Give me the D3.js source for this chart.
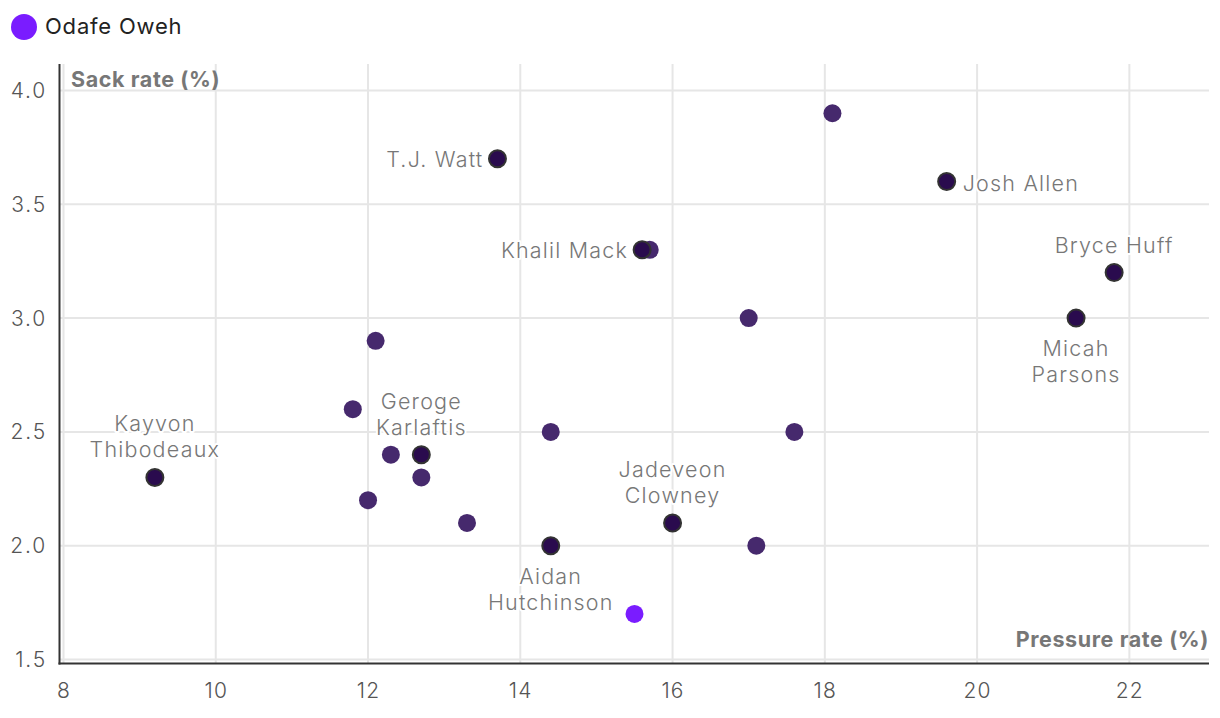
<!DOCTYPE html>
<html><head><meta charset="utf-8">
<script src="https://cdn.jsdelivr.net/npm/d3@7"></script>
<style>
body{margin:0;background:#fff;font-family:Inter,"Noto Sans",sans-serif;}
svg{display:block;}
</style></head>
<body>
<svg id="chart" width="1220" height="718"></svg>
<script>
// Data
const others = [
  {x:18.1,y:3.9},{x:15.7,y:3.3},{x:17.0,y:3.0},{x:12.1,y:2.9},{x:11.8,y:2.6},
  {x:14.4,y:2.5},{x:17.6,y:2.5},{x:12.3,y:2.4},{x:12.7,y:2.3},{x:12.0,y:2.2},
  {x:13.3,y:2.1},{x:17.1,y:2.0}
];
const named = [
  {name:"T.J. Watt", x:13.7, y:3.7, pos:"left"},
  {name:"Josh Allen", x:19.6, y:3.6, pos:"right"},
  {name:"Khalil Mack", x:15.6, y:3.3, pos:"left"},
  {name:"Bryce Huff", x:21.8, y:3.2, pos:"top"},
  {name:"Micah\nParsons", x:21.3, y:3.0, pos:"bottom"},
  {name:"Kayvon\nThibodeaux", x:9.2, y:2.3, pos:"top"},
  {name:"Geroge\nKarlaftis", x:12.7, y:2.4, pos:"top"},
  {name:"Jadeveon\nClowney", x:16.0, y:2.1, pos:"top"},
  {name:"Aidan\nHutchinson", x:14.4, y:2.0, pos:"bottom"}
];
const highlight = [{name:"Odafe Oweh", x:15.5, y:1.7}];
const xTicks = [8,10,12,14,16,18,20,22];
const yTicks = [1.5,2.0,2.5,3.0,3.5,4.0];
const xTitle = "Pressure rate (%)";
const yTitle = "Sack rate (%)";

const svg = d3.select("#chart");
const x = d3.scaleLinear().domain([8,23]).range([63.5,1205.5]);
const y = d3.scaleLinear().domain([1.5,4.0]).range([659.5,90.5]);
const plotTop = 64, plotRight = 1209, axisX = 59.5, axisY = 663.5;

// gridlines
const g = svg.append("g");
g.selectAll(".vg").data(xTicks).join("line")
  .attr("x1",d=>x(d)).attr("x2",d=>x(d)).attr("y1",plotTop).attr("y2",axisY)
  .attr("stroke","#e6e6e6").attr("stroke-width",2);
g.selectAll(".hg").data(yTicks).join("line")
  .attr("x1",axisX).attr("x2",plotRight).attr("y1",d=>y(d)).attr("y2",d=>y(d))
  .attr("stroke","#e6e6e6").attr("stroke-width",2);

// axes lines
svg.append("line").attr("x1",axisX).attr("x2",axisX).attr("y1",plotTop).attr("y2",axisY+1)
  .attr("stroke","#333").attr("stroke-width",2);
svg.append("line").attr("x1",axisX-1).attr("x2",plotRight).attr("y1",axisY).attr("y2",axisY)
  .attr("stroke","#333").attr("stroke-width",2);

// tick labels
svg.selectAll(".xt").data(xTicks).join("text")
  .attr("x",d=>x(d)+0.5).attr("y",698).attr("text-anchor","middle")
  .attr("font-size",21).attr("font-weight",300).attr("letter-spacing",1.2)
  .attr("fill","#555").text(d=>d3.format("d")(d));
svg.selectAll(".yt").data(yTicks).join("text")
  .attr("x",47).attr("y",d=>y(d)+7.5).attr("text-anchor","end")
  .attr("font-size",21).attr("font-weight",300).attr("letter-spacing",1.8)
  .attr("fill","#555").text(d=>d3.format(".1f")(d));

// axis titles
svg.append("text").attr("x",71).attr("y",87).attr("font-size",21.5).attr("font-weight",700)
  .attr("fill","#777").attr("letter-spacing",0.6).text(yTitle);
svg.append("text").attr("x",1209).attr("y",647).attr("text-anchor","end").attr("font-size",21.5)
  .attr("font-weight",700).attr("fill","#777").attr("letter-spacing",0.6).text(xTitle);

// legend
svg.append("circle").attr("cx",24).attr("cy",27).attr("r",13).attr("fill","#7a1cff");
svg.append("text").attr("x",45).attr("y",34).attr("font-size",22).attr("letter-spacing",0.8)
  .attr("fill","#222").text(highlight[0].name);

// points
const R = 8.5;
svg.selectAll(".o").data(others).join("circle")
  .attr("cx",d=>x(d.x)).attr("cy",d=>y(d.y)).attr("r",R+0.5).attr("fill","#46296d");
svg.selectAll(".n").data(named).join("circle")
  .attr("cx",d=>x(d.x)).attr("cy",d=>y(d.y)).attr("r",R).attr("fill","#2a0b4e")
  .attr("stroke","#333").attr("stroke-width",2);
svg.selectAll(".h").data(highlight).join("circle")
  .attr("cx",d=>x(d.x)).attr("cy",d=>y(d.y)).attr("r",R+0.5).attr("fill","#7a1cff");

// labels
const LH = 26;
named.forEach(d=>{
  const lines = d.name.split("\n");
  const cx = x(d.x), cy = y(d.y);
  let anchor="middle", tx=cx, firstCenter;
  if(d.pos==="left"){anchor="end"; tx=cx-14; firstCenter=cy;}
  else if(d.pos==="right"){anchor="start"; tx=cx+16; firstCenter=cy+1;}
  else if(d.pos==="top"){firstCenter = cy - 30 - (lines.length-1)*LH + 2;}
  else {firstCenter = cy + 30;}
  const t = svg.append("text").attr("text-anchor",anchor).attr("font-size",21.5).attr("font-weight",300)
    .attr("letter-spacing",1.2)
    .attr("fill","#777").attr("stroke","#fff").attr("stroke-width",4)
    .attr("paint-order","stroke").attr("stroke-linejoin","round");
  lines.forEach((l,i)=>{
    t.append("tspan").attr("x",tx).attr("y",firstCenter+i*LH+8).text(l);
  });
});
</script>
</body></html>
